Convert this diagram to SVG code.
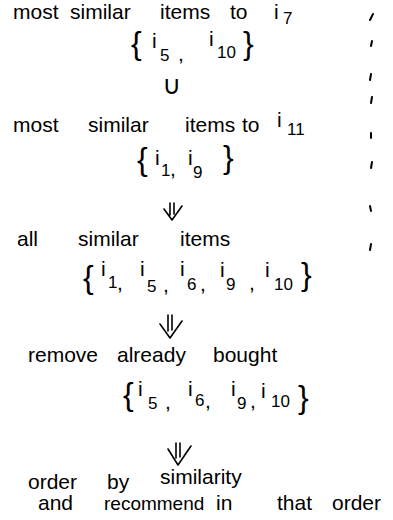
<svg xmlns="http://www.w3.org/2000/svg" width="393" height="520" viewBox="0 0 393 520">
<style>
text{font-family:"Liberation Sans","DejaVu Sans",sans-serif;fill:#000;font-size:21px}
.br{font-size:32px}
.sb{font-size:17px}
.sym{font-family:"DejaVu Sans","Liberation Sans",sans-serif;font-size:26px}
.arr{fill:none;stroke:#000;stroke-width:1.6;stroke-linecap:round;stroke-linejoin:round}
.tick{stroke:#000;stroke-width:2;stroke-linecap:round}
</style>
<rect width="393" height="520" fill="#fff"/>
<g id="similar-i7">
<text y="19"><tspan x="13">most</tspan><tspan x="70">similar</tspan><tspan x="160">items</tspan><tspan x="230">to</tspan><tspan x="274">i</tspan><tspan class="sb" x="283" y="24">7</tspan></text>
</g>
<g id="set-i7">
<text><tspan class="br" x="131" y="54">{</tspan><tspan x="152" y="48">i</tspan><tspan class="sb" x="160" y="61">5</tspan><tspan x="178" y="61">,</tspan><tspan x="209" y="46">i</tspan><tspan class="sb" x="217" y="58">10</tspan><tspan class="br" x="243" y="54">}</tspan></text>
</g>
<g id="union">
<text class="sym" x="172" y="94" text-anchor="middle">∪</text>
</g>
<g id="similar-i11">
<text y="132"><tspan x="13">most</tspan><tspan x="88">similar</tspan><tspan x="185">items</tspan><tspan x="242">to</tspan><tspan x="277" y="127">i</tspan><tspan class="sb" x="287" y="135">11</tspan></text>
</g>
<g id="set-i11">
<text><tspan class="br" x="137" y="170">{</tspan><tspan x="155" y="165">i</tspan><tspan class="sb" x="161" y="176">1</tspan><tspan x="170" y="176">,</tspan><tspan x="188" y="165">i</tspan><tspan class="sb" x="193" y="178">9</tspan><tspan class="br" x="223" y="168">}</tspan></text>
</g>
<g id="all-similar">
<text y="246"><tspan x="17">all</tspan><tspan x="78">similar</tspan><tspan x="180">items</tspan></text>
</g>
<g id="set-all">
<text><tspan class="br" x="83" y="288">{</tspan><tspan x="101" y="276">i</tspan><tspan class="sb" x="108" y="288">1</tspan><tspan x="117" y="290">,</tspan><tspan x="140" y="276">i</tspan><tspan class="sb" x="147" y="292">5</tspan><tspan x="163" y="292">,</tspan><tspan x="180" y="276">i</tspan><tspan class="sb" x="187" y="290">6</tspan><tspan x="200" y="291">,</tspan><tspan x="220" y="277">i</tspan><tspan class="sb" x="226" y="290">9</tspan><tspan x="249" y="290">,</tspan><tspan x="265" y="277">i</tspan><tspan class="sb" x="274" y="290">10</tspan><tspan class="br" x="301" y="285">}</tspan></text>
</g>
<g id="remove-bought">
<text y="362"><tspan x="28">remove</tspan><tspan x="117">already</tspan><tspan x="213">bought</tspan></text>
</g>
<g id="set-remaining">
<text><tspan class="br" x="123" y="405">{</tspan><tspan x="138" y="396">i</tspan><tspan class="sb" x="148" y="409">5</tspan><tspan x="165" y="409">,</tspan><tspan x="188" y="396">i</tspan><tspan class="sb" x="195" y="406">6</tspan><tspan x="205" y="408">,</tspan><tspan x="231" y="396">i</tspan><tspan class="sb" x="237" y="409">9</tspan><tspan x="250" y="408">,</tspan><tspan x="261" y="398">i</tspan><tspan class="sb" x="271" y="407">10</tspan><tspan class="br" x="298" y="408">}</tspan></text>
</g>
<g id="order-recommend">
<text><tspan x="28" y="489">order</tspan><tspan x="107" y="489">by</tspan><tspan x="160" y="484">similarity</tspan><tspan x="38" y="510">and</tspan></text>
<text x="104" y="510" style="font-size:19px">recommend</text>
<text><tspan x="216" y="510">in</tspan><tspan x="277" y="510">that</tspan><tspan x="332" y="510">order</tspan></text>
</g>
<g id="connectors">
<path class="arr" d="M170 203V215M174 203V214M164 209L172 220L182 206"/>
<path class="arr" d="M168 315V331M172 315V330M160 324L170 338L182 321"/>
<path class="arr" d="M176 443V458M180 443V457M168 449L178 465L191 446"/>
</g>
<g id="margin-ticks">
<path class="tick" d="M370 20L373 14M371 46L372 41M370 80L371 74M371 103L372 97M371 138L371 133M371 168L372 162M371 211L370 206M370 250L371 244"/>
</g>
</svg>
